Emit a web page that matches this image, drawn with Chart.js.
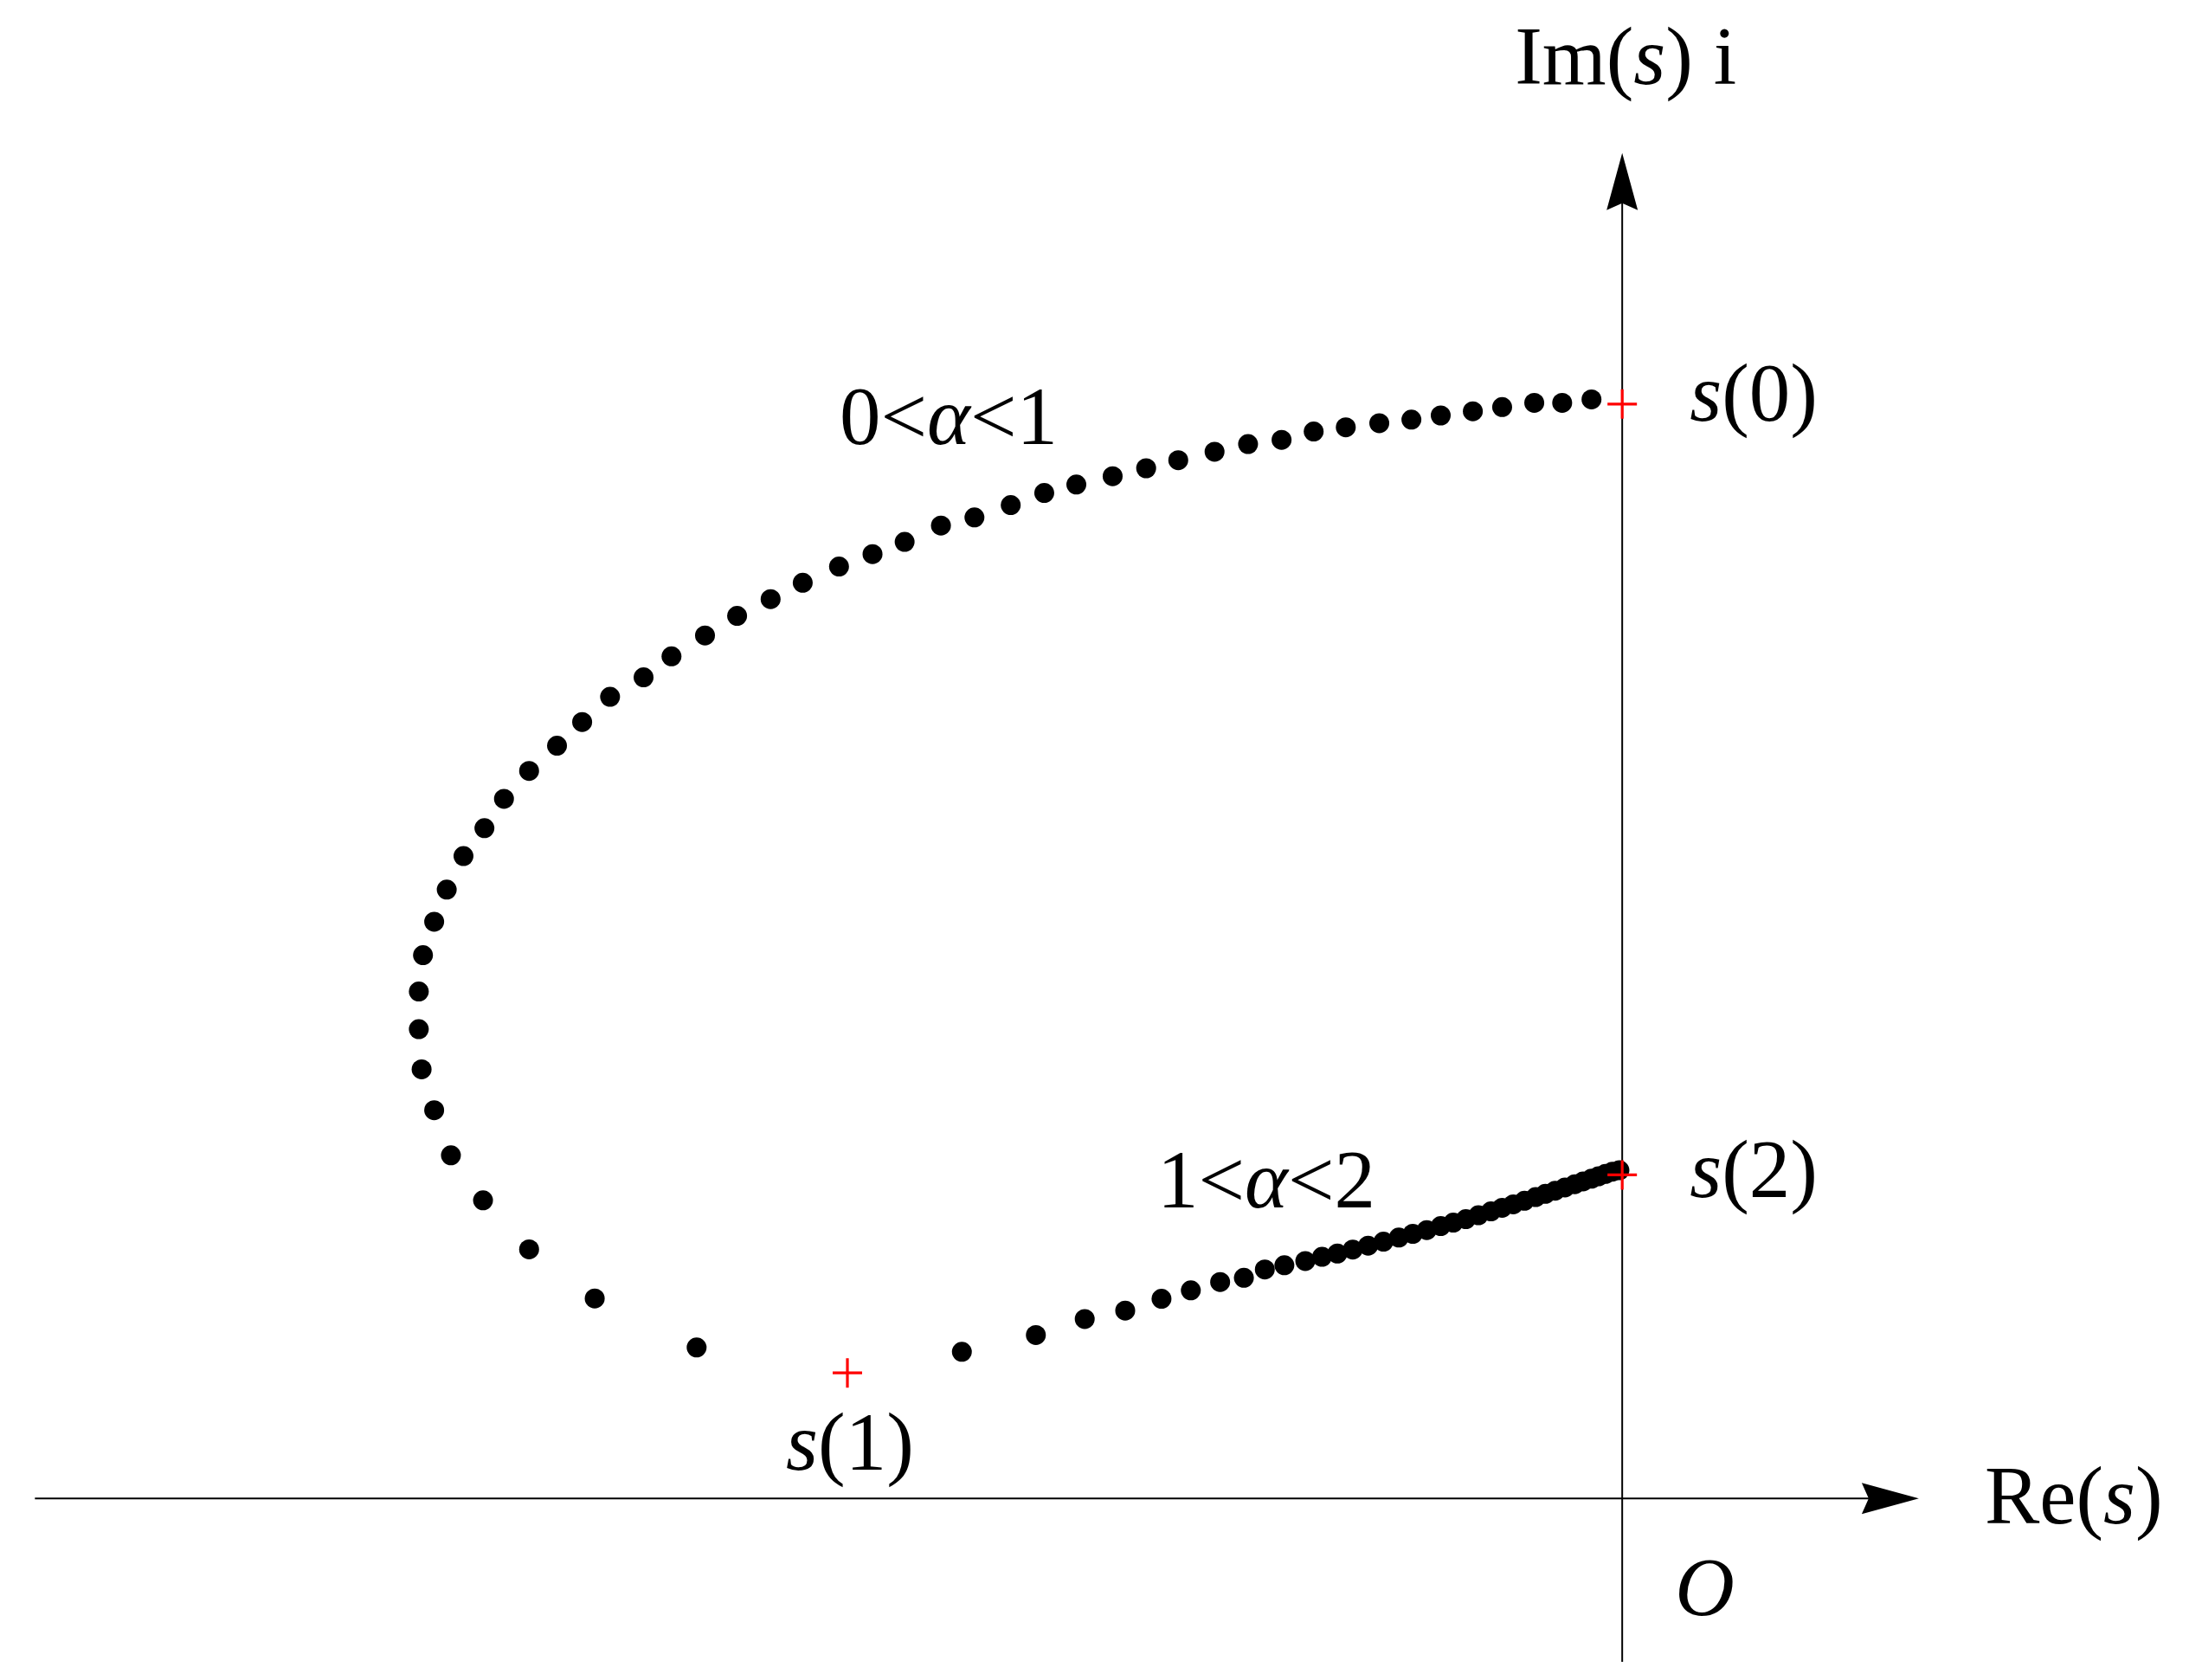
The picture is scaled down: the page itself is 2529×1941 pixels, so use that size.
<!DOCTYPE html>
<html>
<head>
<meta charset="utf-8">
<title>Trajectory of s(α) in the complex plane</title>
<script src="https://cdn.jsdelivr.net/npm/chart.js@4.4.1/dist/chart.umd.min.js"></script>
<style>
  html, body { margin: 0; padding: 0; background: #fff; }
  canvas { display: block; }
</style>
</head>
<body>
<canvas id="s-plane" width="2529" height="1941"></canvas>
<script>
// 0 < alpha < 1 branch, read from s(0) round to s(1)
const re_upper = [-0.22, -0.43, -0.63, -0.86, -1.07, -1.30, -1.51, -1.74, -1.98, -2.21,
    -2.44, -2.68, -2.92, -3.18, -3.41, -3.65, -3.91, -4.14, -4.38, -4.64,
    -4.88, -5.14, -5.37, -5.61, -5.87, -6.10, -6.34, -6.57, -6.81, -7.01,
    -7.25, -7.45, -7.63, -7.83, -8.01, -8.15, -8.30, -8.42, -8.51, -8.59,
    -8.62, -8.62, -8.60, -8.51, -8.39, -8.16, -7.83, -7.36, -6.63];
const im_upper = [7.87, 7.845, 7.845, 7.815, 7.785, 7.755, 7.725, 7.70, 7.67, 7.64,
    7.58, 7.55, 7.495, 7.435, 7.377, 7.32, 7.26, 7.20, 7.113, 7.025,
    6.967, 6.85, 6.762, 6.673, 6.557, 6.44, 6.32, 6.18, 6.03, 5.88,
    5.74, 5.56, 5.39, 5.21, 5.01, 4.80, 4.60, 4.36, 4.13, 3.89,
    3.63, 3.36, 3.073, 2.78, 2.457, 2.135, 1.784, 1.432, 1.081];

// 1 < alpha < 2 branch, read from s(1) up to s(2)
const re_lower = [-4.73, -4.20, -3.85, -3.56, -3.30, -3.09, -2.88, -2.71, -2.56, -2.42,
    -2.27, -2.15, -2.04, -1.93, -1.82, -1.71, -1.60, -1.50, -1.40, -1.30,
    -1.21, -1.12, -1.03, -0.94, -0.86, -0.78, -0.70, -0.62, -0.55, -0.48,
    -0.41, -0.34, -0.28, -0.22, -0.17, -0.12, -0.07, -0.02];
const im_lower = [1.05, 1.17, 1.285, 1.345, 1.43, 1.49, 1.55, 1.58, 1.64, 1.67,
    1.70, 1.73, 1.754, 1.782, 1.81, 1.839, 1.868, 1.895, 1.922, 1.95,
    1.975, 2.00, 2.028, 2.056, 2.081, 2.106, 2.132, 2.158, 2.181, 2.204,
    2.227, 2.25, 2.27, 2.29, 2.307, 2.324, 2.34, 2.35];

// marked values s(0), s(1), s(2)
const marker_names = ["s(0)", "s(1)", "s(2)"];
const re_markers = [0, -5.55, 0];
const im_markers = [7.837, 0.899, 2.317];

const toPoints = (xs, ys) => xs.map((v, i) => ({ x: v, y: ys[i] }));

const FONT = "'Liberation Serif', 'Times New Roman', serif";

// draws a label made of upright / italic pieces one after another
function drawRich(ctx, parts, x, y) {
    parts.forEach(([text, italic]) => {
        ctx.font = (italic ? "italic " : "") + "95px " + FONT;
        ctx.fillText(text, x, y);
        x += ctx.measureText(text).width;
    });
}

function arrowHead(ctx, tipX, tipY, dirX, dirY) {
    // dir is a unit vector along the axis
    const len = 66, half = 18, notch = 58;
    const nx = -dirY, ny = dirX;
    ctx.beginPath();
    ctx.moveTo(tipX, tipY);
    ctx.lineTo(tipX - dirX * len + nx * half, tipY - dirY * len + ny * half);
    ctx.lineTo(tipX - dirX * notch, tipY - dirY * notch);
    ctx.lineTo(tipX - dirX * len - nx * half, tipY - dirY * len - ny * half);
    ctx.closePath();
    ctx.fill();
}

const RE_AXIS = [-11.37, 2.125];   // left end, arrow tip
const IM_AXIS = [-1.17, 9.634];    // bottom end, arrow tip

const axesPlugin = {
    id: "axesPlugin",
    beforeDatasetsDraw(chart) {
        const { ctx, scales: { x, y } } = chart;
        const x0 = x.getPixelForValue(0);
        const y0 = y.getPixelForValue(0);
        const xLeft = x.getPixelForValue(RE_AXIS[0]);
        const xTip = x.getPixelForValue(RE_AXIS[1]);
        const yBottom = y.getPixelForValue(IM_AXIS[0]);
        const yTip = y.getPixelForValue(IM_AXIS[1]);

        ctx.save();
        ctx.strokeStyle = "#000";
        ctx.fillStyle = "#000";
        ctx.lineWidth = 2;

        // Re axis
        ctx.beginPath();
        ctx.moveTo(xLeft, y0);
        ctx.lineTo(xTip - 50, y0);
        ctx.stroke();
        arrowHead(ctx, xTip, y0, 1, 0);

        // Im axis
        ctx.beginPath();
        ctx.moveTo(x0, yBottom);
        ctx.lineTo(x0, yTip + 50);
        ctx.stroke();
        arrowHead(ctx, x0, yTip, 0, -1);
        ctx.restore();
    },
    afterDraw(chart) {
        const { ctx, scales: { x, y } } = chart;
        const x0 = x.getPixelForValue(0);
        const y0 = y.getPixelForValue(0);
        const xTip = x.getPixelForValue(RE_AXIS[1]);
        const yTip = y.getPixelForValue(IM_AXIS[1]);
        const px = (i) => x.getPixelForValue(re_markers[i]);
        const py = (i) => y.getPixelForValue(im_markers[i]);

        ctx.save();
        ctx.fillStyle = "#000";
        ctx.textBaseline = "alphabetic";
        ctx.textAlign = "left";

        // axis names
        drawRich(ctx, [["Im(", false], ["s", true], [") i", false]], x0 - 124, yTip - 80);
        drawRich(ctx, [["Re(", false], ["s", true], [")", false]], xTip + 76, y0 + 29);
        drawRich(ctx, [["O", true]], x0 + 61, y0 + 135);

        // marker names
        drawRich(ctx, [["s", true], ["(0)", false]], px(0) + 78, py(0) + 19);
        drawRich(ctx, [["s", true], ["(1)", false]], px(1) - 71, py(1) + 112);
        drawRich(ctx, [["s", true], ["(2)", false]], px(2) + 78, py(2) + 26);

        // branch names
        drawRich(ctx, [["0<", false], ["α", true], ["<1", false]], 970, 513);
        drawRich(ctx, [["1<", false], ["α", true], ["<2", false]], 1337, 1395);
        ctx.restore();
    }
};

new Chart(document.getElementById("s-plane"), {
    type: "scatter",
    data: {
        datasets: [
            {
                label: "markers",
                data: toPoints(re_markers, im_markers),
                pointStyle: "cross",
                pointRadius: 17,
                pointBorderWidth: 3.2,
                pointBorderColor: "#ff0000",
                order: 0,
                clip: false
            },
            {
                label: "0<α<1",
                data: toPoints(re_upper, im_upper),
                pointRadius: 11.5,
                pointBackgroundColor: "#000",
                pointBorderWidth: 0,
                order: 1,
                clip: false
            },
            {
                label: "1<α<2",
                data: toPoints(re_lower, im_lower),
                pointRadius: 11.5,
                pointBackgroundColor: "#000",
                pointBorderWidth: 0,
                order: 1,
                clip: false
            }
        ]
    },
    options: {
        responsive: false,
        devicePixelRatio: 1,
        animation: false,
        events: [],
        layout: { padding: 0, autoPadding: false },
        plugins: {
            legend: { display: false },
            tooltip: { enabled: false }
        },
        scales: {
            x: { type: "linear", min: -11.62, max: 4.06, display: false },
            y: { type: "linear", min: -1.30, max: 10.73, display: false }
        }
    },
    plugins: [axesPlugin]
});
</script>
</body>
</html>
